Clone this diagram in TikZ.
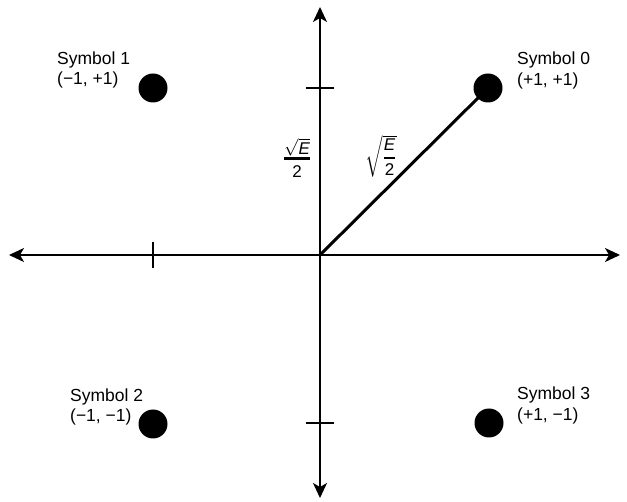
\documentclass[tikz,border=0pt]{standalone}
\usepackage{amsmath}
\usepackage{fontspec}
\setmainfont{Liberation Sans}
\usetikzlibrary{arrows.meta}
\begin{document}
\begin{tikzpicture}[x=1pt,y=-1pt,
  axis/.style={line width=1.5pt, {Stealth[length=15pt,width=14pt,inset=4pt]}-{Stealth[length=15pt,width=14pt,inset=4pt]}},
  tickmark/.style={line width=2pt},
  vec/.style={line width=3pt},
  dot/.style={circle, fill=black, inner sep=0pt, minimum size=29pt},
  lbl/.style={anchor=north west, inner sep=0pt, align=left, font=\fontsize{17.5}{20.5}\selectfont},
  mlbl/.style={inner sep=0pt, font=\fontsize{17}{20}\selectfont}]
\useasboundingbox (0,0) rectangle (627,502);
\fill[white] (0,0) rectangle (627,502);
% axes
\coordinate (L) at (9,255);
\coordinate (R) at (620,255);
\coordinate (T) at (320,7);
\coordinate (B) at (320,498);
\coordinate (O) at (320,255);
\draw[axis] (L) -- (R);
\draw[axis] (B) -- (T);
% ticks
\draw[tickmark] (306,88) -- (334,88);
\draw[tickmark] (306,423) -- (334,423);
\draw[tickmark] (153,242) -- (153,268);
% dots
\node[dot] (s0) at (488,88) {};
\node[dot] (s1) at (153,88) {};
\node[dot] (s2) at (153,424) {};
\node[dot] (s3) at (489,423) {};
% vector
\draw[vec] (O) -- (s0.center);
% labels
\node[lbl] (t1) at (57,51.5) {Symbol 1\\(−1, +1)};
\node[lbl] (t0) at (517,52) {Symbol 0\\(+1, +1)};
\node[lbl] (t2) at (70,388.5) {Symbol 2\\(−1, −1)};
\node[lbl] (t3) at (517,387) {Symbol 3\\(+1, −1)};
\node[mlbl] (f1) at (297,161) {\setlength\arrayrulewidth{3pt}\setlength\tabcolsep{0pt}%
  \begin{tabular}{c}$\sqrt{\mbox{\itshape E}}$\\[-3pt]\hline\rule{0pt}{17pt}2\end{tabular}};
\node[mlbl] (f2) at (381,156) {$\sqrt{\genfrac{}{}{1.5pt}{0}{\mbox{\itshape E}}{\mbox{2}}}$};
\end{tikzpicture}
\end{document}
